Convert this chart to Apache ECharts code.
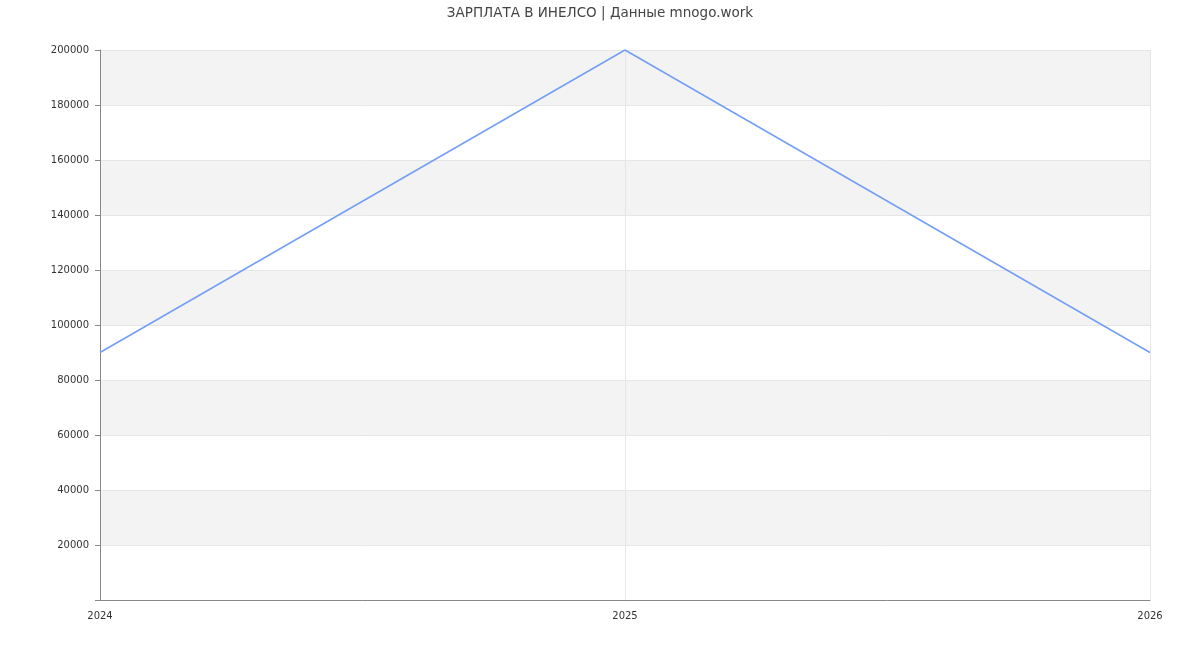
<!DOCTYPE html>
<html><head><meta charset="utf-8">
<script src="https://cdn.jsdelivr.net/npm/echarts@6/dist/echarts.min.js"></script>
<style>html,body{margin:0;padding:0;background:#fff}#c{width:1200px;height:650px}</style>
</head><body><div id="c"></div>
<script>
const titleText = 'ЗАРПЛАТА В ИНЕЛСО | Данные mnogo.work';
const years = ['2024', '2025', '2026'];
const salary = [90000, 200000, 90000];

const chart = echarts.init(document.getElementById('c'));
chart.setOption({
  animation: false,
  backgroundColor: '#fff',
  title: {
    text: titleText, left: 'center', top: 1,
    textStyle: { fontFamily: 'DejaVu Sans', fontSize: 13.5, fontWeight: 'normal', color: '#444' }
  },
  grid: { left: 100, right: 50, top: 50, bottom: 50 },
  xAxis: {
    type: 'category', data: years, boundaryGap: false,
    axisLine: { lineStyle: { color: '#888' } },
    axisTick: { show: false },
    axisLabel: { fontFamily: 'DejaVu Sans', fontSize: 10, color: '#333', margin: 11 },
    splitLine: { show: true, lineStyle: { color: '#e6e6e6' } }
  },
  yAxis: {
    type: 'value', min: 0, max: 200000, interval: 20000,
    axisLine: { show: true, lineStyle: { color: '#888' } },
    axisTick: { show: true, length: 5, lineStyle: { color: '#888' } },
    axisLabel: { fontFamily: 'DejaVu Sans', fontSize: 10, color: '#333', margin: 11,
      formatter: v => v === 0 ? '' : String(v) },
    splitLine: { show: true, lineStyle: { color: '#e6e6e6' } },
    splitArea: { show: true, areaStyle: { color: ['#ffffff', '#f3f3f3'] } }
  },
  series: [{
    type: 'line', data: salary, symbol: 'none',
    lineStyle: { color: '#739ef5', width: 1.5 }
  }]
});
</script></body></html>
